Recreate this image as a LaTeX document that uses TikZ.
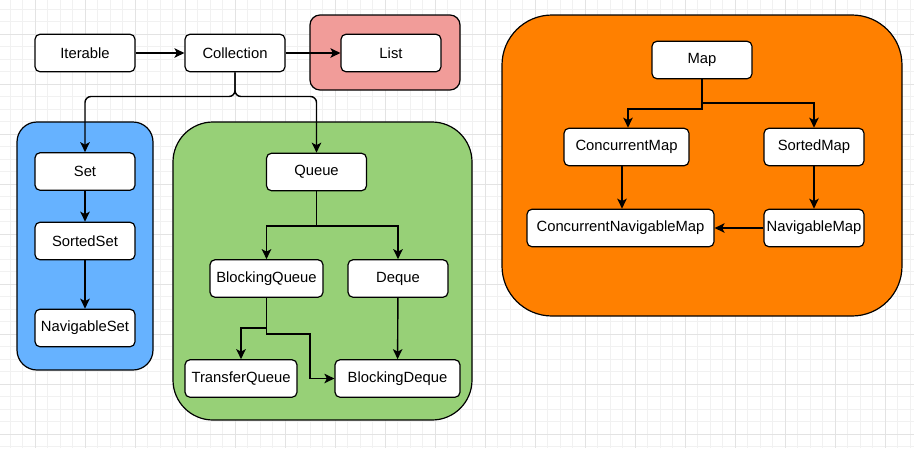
\documentclass[tikz,border=0pt]{standalone}
\usepackage{fontspec}
\setmainfont{Liberation Sans}
\usetikzlibrary{arrows.meta,positioning}
\definecolor{listred}{HTML}{F19C99}
\definecolor{setblue}{HTML}{66B2FF}
\definecolor{queuegreen}{HTML}{97D077}
\definecolor{maporange}{HTML}{FF8000}
\definecolor{minorline}{HTML}{F1F1F1}
\definecolor{majorline}{HTML}{E3E3E3}

\begin{document}
\begin{tikzpicture}[x=1pt,y=-1pt,
	box/.style={draw,fill=white,rounded corners=5,line width=1.2,minimum width=100,minimum height=37.5,inner sep=2,font=\fontsize{14.8}{17}\selectfont},
	area/.style={draw,line width=1.2},
	link/.style={draw,line width=1.4,-{Stealth[length=10,width=9.5,inset=2.5]}}]
		\useasboundingbox (0,0) rectangle (914,448);
		\fill[white] (0,0) rectangle (914,448);
		% grid
		\foreach \k in {0,...,72} {\draw[minorline,line width=1] (10+12.5*\k,0) -- (10+12.5*\k,448);}
		\foreach \k in {0,...,35} {\draw[minorline,line width=1] (0,9+12.5*\k) -- (914,9+12.5*\k);}
		\foreach \k in {0,...,17} {\draw[majorline,line width=1] (35+50*\k,0) -- (35+50*\k,448);}
		\foreach \k in {0,...,8} {\draw[majorline,line width=1] (0,34+50*\k) -- (914,34+50*\k);}
		
		% groups
		\node[area,fill=listred,rounded corners=10,minimum width=150,minimum height=75] (listarea) at (385,52.5) {};
		\node[area,fill=setblue,rounded corners=20,minimum width=136,minimum height=248] (setarea) at (85,246) {};
		\node[area,fill=queuegreen,rounded corners=40,minimum width=299,minimum height=298] (queuearea) at (322.5,271) {};
		\node[area,fill=maporange,rounded corners=50,minimum width=400,minimum height=301] (maparea) at (702,165.5) {};
		
		\node[box] (iterable) at (85,53) {Iterable};
		\node[box] (collection) at (235,53) {Collection};
		\node[box] (list) at (391,53) {List};
		
		\node[box] (set) at (85,171.5) {Set};
		\node[box] (sortedset) at (85,241) {SortedSet};
		\node[box] (navigableset) at (85,328) {NavigableSet};
		
		\node[box] (queue) at (316.5,172) {Queue};
		\node[box,minimum width=113] (blockingqueue) at (266.5,278.5) {BlockingQueue};
		\node[box] (deque) at (398,278.5) {Deque};
		\node[box,minimum width=112] (transferqueue) at (241,378.5) {TransferQueue};
		\node[box,minimum width=125] (blockingdeque) at (397.5,378.5) {BlockingDeque};
		
		\node[box] (map) at (702,60) {Map};
		\node[box,minimum width=125] (concurrentmap) at (626.5,147) {ConcurrentMap};
		\node[box] (sortedmap) at (814,147) {SortedMap};
		\node[box,minimum width=187] (concurrentnavigablemap) at (620.5,228) {ConcurrentNavigableMap};
		\node[box] (navigablemap) at (814,228) {NavigableMap};
		
		\draw[link] (iterable) -- (collection);
		\draw[link] (collection) -- (list);
		\draw[link,rounded corners=6] (collection.south) |- (160,96.5) -| (set.north);
		\draw[link,rounded corners=6] (collection.south) |- (280,96.5) -| (queue.north);
		\draw[link] (set) -- (sortedset);
		\draw[link] (sortedset) -- (navigableset);
		
		\draw[link] (queue.south) |- (330,226) -| (blockingqueue.north);
		\draw[link] (queue.south) |- (330,226) -| (deque.north);
		\draw[link] (blockingqueue.south) |- (250,328) -| (transferqueue.north);
		\draw[link] (blockingqueue.south) |- (290,334) -- (310,334) |- (blockingdeque.west);
		\draw[link] (deque) -- (blockingdeque);
		
		\draw[link] (map.south) |- (660,109) -| (concurrentmap.north -| 628,0);
		\draw[link] (map.south) |- (760,103) -| (sortedmap.north);
		\draw[link] (concurrentmap.south -| 622,0) -- (concurrentnavigablemap.north -| 622,0);
		\draw[link] (sortedmap) -- (navigablemap);
		\draw[link] (navigablemap) -- (concurrentnavigablemap);
\end{tikzpicture}
\end{document}
